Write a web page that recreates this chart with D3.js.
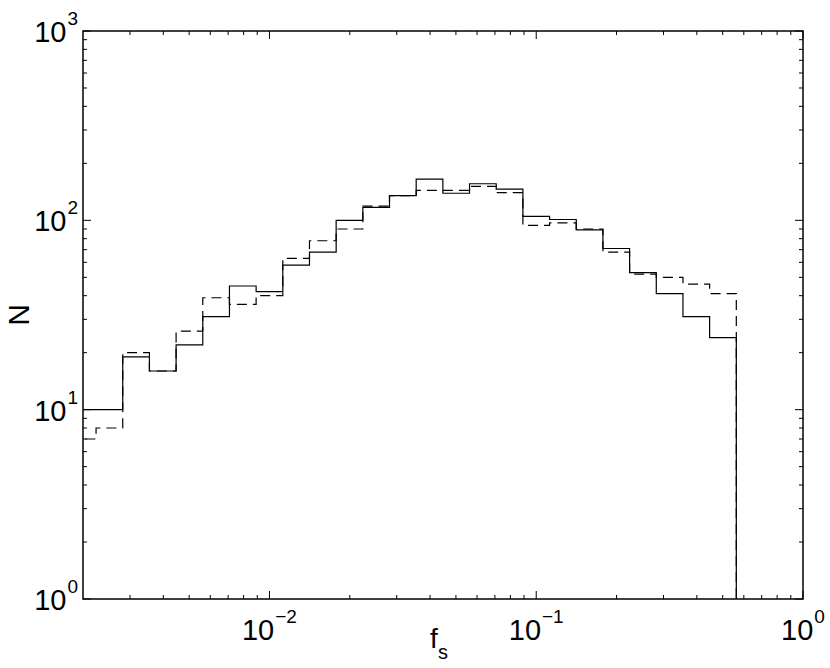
<!DOCTYPE html>
<html>
<head>
	<meta charset="utf-8">
	<title></title>
	<script src="https://d3js.org/d3.v7.min.js"></script>
	<style type="text/css">
		body { margin: 0; background: #fff; }
		svg text { font-family: 'Liberation Sans Narrow', 'Liberation Sans', Arial, sans-serif; fill: #000; }
	</style>
</head>
<body>
<script type="text/javascript">

	// bin centres in log10(f_s), 0.1 dex wide
	var binCentres = [-2.7, -2.6, -2.5, -2.4, -2.3, -2.2, -2.1, -2.0, -1.9, -1.8, -1.7, -1.6, -1.5,
	                  -1.4, -1.3, -1.2, -1.1, -1.0, -0.9, -0.8, -0.7, -0.6, -0.5, -0.4, -0.3];
	var solidCounts  = [10, 10, 19, 16, 22, 31, 45, 42, 58, 68, 100, 117, 135,
	                    165, 139, 156, 146, 105, 101, 89, 71, 53, 41, 31, 24];
	var dashedCounts = [7, 8, 20, 16, 26, 39, 36, 40, 63, 78, 90, 119, 135,
	                    144, 144, 151, 140, 94, 97, 90, 68, 52, 50, 46, 41];
	var xTickExp = [-2, -1, 0];
	var yTickExp = [0, 1, 2, 3];

	var W = 830, H = 668;
	var pLeft = 83, pRight = 803, pTop = 31, pBottom = 599;

	var x = d3.scaleLog().domain([0.002, 1]).range([pLeft, pRight]);
	var y = d3.scaleLog().domain([1, 1000]).range([pBottom, pTop]);

	var svg = d3.select('body').append('svg')
		.attr('width', W).attr('height', H);

	svg.append('clipPath').attr('id', 'plotclip')
		.append('rect')
		.attr('x', pLeft).attr('y', pTop)
		.attr('width', pRight - pLeft).attr('height', pBottom - pTop);

	// step outline of a histogram, ending with a drop to the bottom axis
	function histPath(counts) {
		var pts = [];
		binCentres.forEach(function(c, i) {
			pts.push([x(Math.pow(10, c - 0.05)), y(counts[i])]);
			pts.push([x(Math.pow(10, c + 0.05)), y(counts[i])]);
		});
		var last = binCentres[binCentres.length - 1];
		pts.push([x(Math.pow(10, last + 0.05)), y(1)]);
		return d3.line()(pts);
	}

	var g = svg.append('g').attr('clip-path', 'url(#plotclip)');

	g.append('path')
		.attr('d', histPath(dashedCounts))
		.attr('fill', 'none')
		.attr('stroke', '#000')
		.attr('stroke-width', 1.2)
		.attr('stroke-dasharray', '10,6');

	g.append('path')
		.attr('d', histPath(solidCounts))
		.attr('fill', 'none')
		.attr('stroke', '#000')
		.attr('stroke-width', 1.2);

	// ticks on all four sides, pointing inward
	var xMajor = xTickExp.map(function(e) { return Math.pow(10, e); });
	var yMajor = yTickExp.map(function(e) { return Math.pow(10, e); });
	var xMinor = [], yMinor = [];
	[-3, -2, -1].forEach(function(e) {
		for (var m = 2; m <= 9; m++) {
			var v = m * Math.pow(10, e);
			if (v > 0.002 && v < 1) xMinor.push(v);
		}
	});
	[0, 1, 2].forEach(function(e) {
		for (var m = 2; m <= 9; m++) yMinor.push(m * Math.pow(10, e));
	});

	var ticks = svg.append('g').attr('stroke', '#000').attr('stroke-width', 1);

	function xTicks(vals, len) {
		vals.forEach(function(v) {
			ticks.append('line').attr('x1', x(v)).attr('x2', x(v))
				.attr('y1', pBottom).attr('y2', pBottom - len);
			ticks.append('line').attr('x1', x(v)).attr('x2', x(v))
				.attr('y1', pTop).attr('y2', pTop + len);
		});
	}
	function yTicks(vals, len) {
		vals.forEach(function(v) {
			ticks.append('line').attr('y1', y(v)).attr('y2', y(v))
				.attr('x1', pLeft).attr('x2', pLeft + len);
			ticks.append('line').attr('y1', y(v)).attr('y2', y(v))
				.attr('x1', pRight).attr('x2', pRight - len);
		});
	}
	xTicks(xMajor, 8);
	xTicks(xMinor, 4);
	yTicks(yMajor, 8);
	yTicks(yMinor, 4);

	svg.append('rect')
		.attr('x', pLeft).attr('y', pTop)
		.attr('width', pRight - pLeft).attr('height', pBottom - pTop)
		.attr('fill', 'none')
		.attr('stroke', '#000')
		.attr('stroke-width', 1.5);

	// tick labels, 10 with superscript exponent
	function powLabel(sel, e) {
		sel.append('tspan').text('10');
		sel.append('tspan').text(e < 0 ? '\u2212' + (-e) : e)
			.attr('font-size', '19px')
			.attr('dx', 1)
			.attr('dy', -17);
	}

	svg.selectAll('.ylab')
		.data(yTickExp)
		.enter()
		.append('text')
		.attr('class', 'ylab')
		.attr('x', 78)
		.attr('y', function(d) { return y(Math.pow(10, d)) + 11; })
		.attr('text-anchor', 'end')
		.attr('font-size', '29px')
		.each(function(d) { powLabel(d3.select(this), d); });

	svg.selectAll('.xlab')
		.data(xTickExp)
		.enter()
		.append('text')
		.attr('class', 'xlab')
		.attr('x', function(d) { return x(Math.pow(10, d)); })
		.attr('y', 640)
		.attr('text-anchor', 'middle')
		.attr('font-size', '29px')
		.each(function(d) { powLabel(d3.select(this), d); });

	// axis titles
	var xt = svg.append('text')
		.attr('x', 439)
		.attr('y', 648)
		.attr('text-anchor', 'middle')
		.attr('font-size', '28px');
	xt.append('tspan').text('f');
	xt.append('tspan').text('s').attr('font-size', '20px').attr('dy', 11);

	svg.append('text')
		.attr('transform', 'translate(29,315) rotate(-90)')
		.attr('text-anchor', 'middle')
		.attr('font-size', '30px')
		.text('N');

</script>
</body>
</html>
